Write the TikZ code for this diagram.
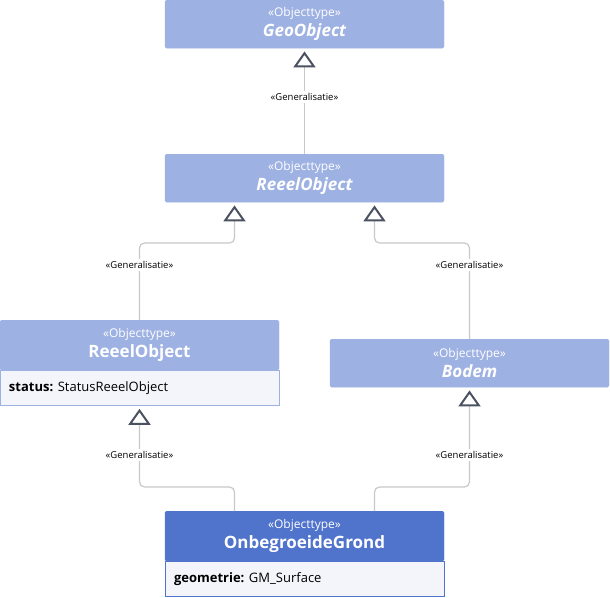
\documentclass[tikz,border=0pt]{standalone}
\usepackage{fontspec}
\setmainfont{Open Sans}
\usetikzlibrary{arrows.meta,calc}
\definecolor{hdr}{HTML}{9EB1E3}
\definecolor{hdrdark}{HTML}{5073CC}
\definecolor{attrbg}{HTML}{F4F5FA}
\definecolor{lin}{HTML}{C8C8C8}
\definecolor{tip}{HTML}{4A5260}
\tikzset{
  hdrbox/.style={draw=hdr, fill=hdr, rounded corners=1.5pt, minimum width=279pt, minimum height=48pt, inner sep=0pt, text=white, align=center, anchor=north},
  hdrboxdark/.style={hdrbox, draw=hdrdark, fill=hdrdark},
  attrbox/.style={draw=hdr, fill=attrbg, minimum width=279pt, minimum height=35pt, inner sep=0pt, anchor=north, text=black, font=\fontsize{13}{15}\selectfont},
  attrtxt/.style={anchor=west, inner sep=0pt, font=\fontsize{13}{15}\selectfont},
  gen/.style={draw=lin, line width=1.2pt, rounded corners=5pt, -{Triangle[open, width=22pt, length=16pt, color=tip, line width=2pt]}, shorten >=3pt},
  genlbl/.style={fill=white, inner sep=2pt, font=\fontsize{9.5}{11}\selectfont, text=black}
}
\newcommand{\stp}{{\fontsize{12}{14}\selectfont «Objecttype»}\\[3.5pt]}
\begin{document}
\begin{tikzpicture}[x=1pt,y=-1pt]
\useasboundingbox (0,0) rectangle (610,597);
% classes
\node[hdrbox] (geo) at (304.5,0) {\stp{\fontsize{17}{19}\selectfont\bfseries\itshape GeoObject}};
\node[hdrbox] (ro) at (304.5,154) {\stp{\fontsize{17}{19}\selectfont\bfseries\itshape ReeelObject}};
\node[hdrbox, minimum height=50pt] (rl) at (139.5,320) {\stp{\fontsize{17}{19}\selectfont\bfseries ReeelObject}};
\node[attrbox] (rla) at (rl.south) {};
\node[attrtxt] (rlat) at ($(rla.west)+(9,0)$) {\textbf{status:} StatusReeelObject};
\node[hdrbox] (bo) at (469.5,339) {\stp{\fontsize{17}{19}\selectfont\bfseries\itshape Bodem}};
\node[hdrboxdark, minimum height=50pt] (og) at (304.5,511) {\stp{\fontsize{17}{19}\selectfont\bfseries OnbegroeideGrond}};
\node[attrbox, draw=hdrdark] (oga) at (og.south) {};
\node[attrtxt] (ogat) at ($(oga.west)+(9,0)$) {\textbf{geometrie:} GM\_Surface};
% anchor points
\coordinate (rol) at ($(ro.south)+(-70,0)$);
\coordinate (ror) at ($(ro.south)+(70,0)$);
\coordinate (ogl) at ($(og.north)+(-70,0)$);
\coordinate (ogr) at ($(og.north)+(70,0)$);
\coordinate (b1) at (0,243);
\coordinate (b2) at (0,487);
% connectors
\draw[gen] (ro.north) -- (geo.south);
\draw[gen] (rl.north) -- (rl.north |- b1) -| (rol);
\draw[gen] (bo.north) -- (bo.north |- b1) -| (ror);
\draw[gen] (ogl) -- (ogl |- b2) -| (rla.south);
\draw[gen] (ogr) -- (ogr |- b2) -| (bo.south);
% labels
\node[genlbl] (l1) at (304.5,97) {«Generalisatie»};
\node[genlbl] (l2) at (139.5,265) {«Generalisatie»};
\node[genlbl] (l3) at (469.5,265) {«Generalisatie»};
\node[genlbl] (l4) at (139.5,455) {«Generalisatie»};
\node[genlbl] (l5) at (469.5,455) {«Generalisatie»};
\end{tikzpicture}
\end{document}
